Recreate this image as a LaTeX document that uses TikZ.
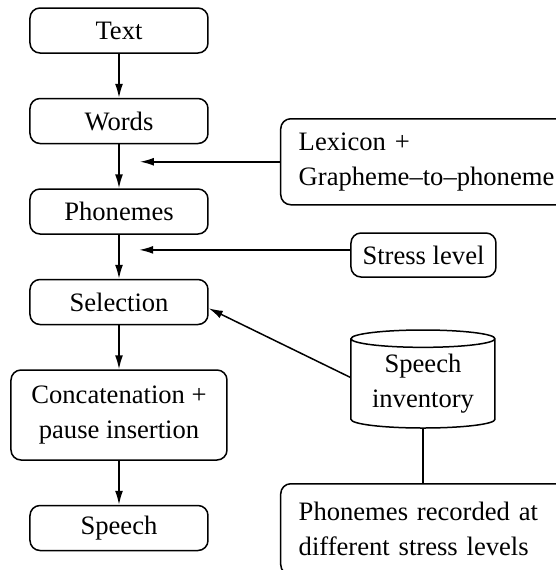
\documentclass[tikz,border=0pt]{standalone}
\usepackage{fontspec}
\setmainfont{Liberation Serif}
\usepackage{tikz}
\usetikzlibrary{positioning}
\usetikzlibrary{shapes.geometric}
\usetikzlibrary{arrows.meta}

\begin{document}
\begin{tikzpicture}[x=0.5pt, y=-0.5pt,
		node distance = 22pt,
		line width=0.75pt,
		>={Latex[length=7pt,width=4pt]},
		every node/.style={font=\fontsize{13.3}{17.5}\selectfont},
		block/.style={draw, rounded corners=5pt, minimum width=89pt,
			minimum height=22.5pt, inner sep=0pt},
		note/.style={draw, rounded corners=5pt, align=left, anchor=north west,
			text width=150pt, inner xsep=9pt}]
		\clip (0,0) rectangle (556,570);
		\node [block] (text) at (119,30.5) {Text};
		\node [block, below=of text] (words) {Words};
		\node [block, below=of words] (phonemes) {Phonemes};
		\node [block, below=of phonemes] (selection) {Selection};
		\node [block, below=of selection, minimum width=108pt,
				minimum height=45pt, align=center] (concat) {Concatenation +\\pause insertion};
		\node [block, below=of concat] (speech) {Speech};
		\node [note, minimum height=43pt] (lexicon) at (280,118) {Lexicon +\\Grapheme--to--phoneme};
		\node [block, minimum width=72.5pt, minimum height=22pt] (stress) at (423.5,255) {Stress level};
		\node [draw, cylinder, shape border rotate=90, aspect=0.17,
				minimum width=72pt, minimum height=49pt, inner sep=0pt,
				align=center, anchor=shape center] (inventory) at (423,379) {Speech\\inventory};
		\node [note, minimum height=45.5pt] (recorded) at (280,483) {Phonemes recorded at\\different stress levels};
		\coordinate [left=70pt of lexicon.west] (lexend);
		\coordinate [left=105.5pt of stress.176] (stressend);
		\path [->]
			(text) edge [] (words)
			(words) edge [] (phonemes)
			(phonemes) edge [] (selection)
			(selection) edge [] (concat)
			(concat) edge [] (speech)
			(lexicon.west) edge [] (lexend)
			(stress.176) edge [] (stressend)
			(inventory.175) edge [] (selection.-4);
		\draw (inventory.south) -- (inventory.south |- recorded.north);
	\end{tikzpicture}
\end{document}
